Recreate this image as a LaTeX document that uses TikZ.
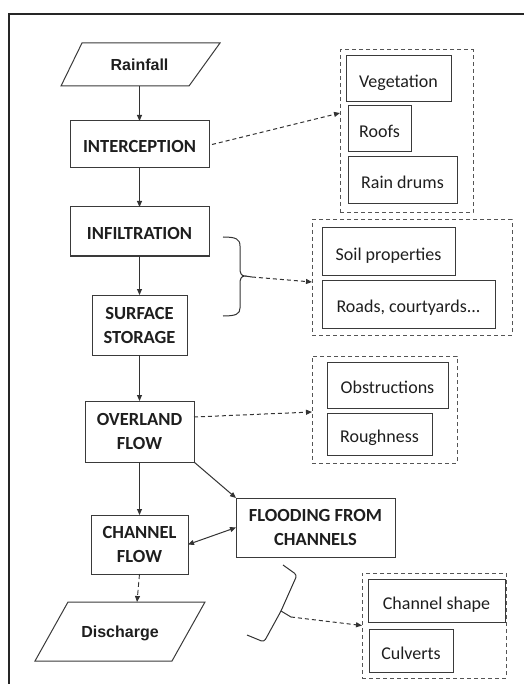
\documentclass[tikz,border=0pt]{standalone}
\usepackage{fontspec}
\setmainfont{Carlito}
\newfontfamily\arialf{Liberation Sans}
\usetikzlibrary{arrows.meta,calc}
\definecolor{linec}{HTML}{333333}
\definecolor{boxc}{HTML}{3A3A3A}
\definecolor{dashc}{HTML}{555555}
\definecolor{txtc}{HTML}{1E1E1E}
\tikzset{
  fbox/.style={draw=boxc, line width=1pt, inner sep=0pt, outer sep=0pt,
    font=\fontsize{18.5}{24}\selectfont\bfseries, text=txtc, align=center},
  oneline/.style={text height=20pt, text depth=3pt},
  ibox/.style={draw=boxc, line width=1pt, inner sep=0pt, outer sep=0pt,
    font=\fontsize{18}{22}\selectfont, text=txtc, text height=20pt, text depth=3pt},
  dbox/.style={draw=dashc, line width=1pt, dash pattern=on 4pt off 3pt, inner sep=0pt, outer sep=0pt},
  ptext/.style={inner sep=0pt, outer sep=0pt, font=\arialf\fontsize{16}{18}\selectfont\bfseries,
    text=txtc, text height=11.5pt, text depth=0pt},
  pshape/.style={draw=boxc, line width=1pt, line join=miter},
  arr/.style={draw=linec, line width=0.9pt, -{Triangle[length=6pt,width=5pt]}},
  darr/.style={draw=linec, line width=1pt, dash pattern=on 4pt off 3pt, -{Triangle[length=6pt,width=5pt]}},
  brc/.style={draw=linec, line width=1pt},
}
\begin{document}
\begin{tikzpicture}[x=1pt,y=-1pt]
\useasboundingbox (0,0) rectangle (523,684);
% frame
\draw[draw=black!85, line width=2.3pt] (8.7,690) -- (8.7,14) -- (530,14);

% parallelograms
\draw[pshape] (82,43) -- (220,43) -- (189,86) -- (61,86) -- cycle;
\node[ptext, minimum width=120pt, minimum height=43pt] (rain) at (139.5,64.5) {Rainfall};
\draw[pshape] (68,602) -- (205,602) -- (172,661) -- (35,661) -- cycle;
\node[ptext, minimum width=120pt, minimum height=59pt] (disch) at (120,631.5) {Discharge};

% main flow boxes
\node[fbox, oneline, minimum width=139pt, minimum height=47pt] (icpt) at (139.5,144.5) {INTERCEPTION};
\node[fbox, oneline, minimum width=139pt, minimum height=49pt] (infl) at (139.5,231.5) {INFILTRATION};
\node[fbox, minimum width=95pt, minimum height=60pt] (surf) at (139.5,325) {SURFACE\\STORAGE};
\node[fbox, minimum width=109pt, minimum height=61pt] (over) at (139.5,431.5) {OVERLAND\\FLOW};
\node[fbox, minimum width=97pt, minimum height=59pt] (chan) at (139.5,544.5) {CHANNEL\\FLOW};
\node[fbox, minimum width=159pt, minimum height=59pt] (flood) at (315.5,527.5) {FLOODING FROM\\CHANNELS};

% dashed groups
\node[dbox, minimum width=133pt, minimum height=163pt] (g1) at (406.5,131.5) {};
\node[dbox, minimum width=200pt, minimum height=115pt] (g2) at (412,277.5) {};
\node[dbox, minimum width=145pt, minimum height=107pt] (g3) at (384.5,409.5) {};
\node[dbox, minimum width=144pt, minimum height=105pt] (g4) at (434,625.5) {};

% item boxes
\node[ibox, minimum width=105pt, minimum height=46pt] (veg) at (398.5,79) {Vegetation};
\node[ibox, minimum width=63pt, minimum height=46pt] (roofs) at (379.5,129) {Roofs};
\node[ibox, minimum width=109pt, minimum height=47pt] (drums) at (402.5,180.5) {Rain drums};
\node[ibox, minimum width=133pt, minimum height=47pt] (soil) at (388.5,251.5) {Soil properties};
\node[ibox, minimum width=173pt, minimum height=48pt] (roads) at (408.5,304) {Roads, courtyards...};
\node[ibox, minimum width=121pt, minimum height=46pt] (obst) at (387.5,385) {Obstructions};
\node[ibox, minimum width=105pt, minimum height=42pt] (rough) at (379.5,434) {Roughness};
\node[ibox, minimum width=137pt, minimum height=43pt] (cshape) at (436.5,600.5) {Channel shape};
\node[ibox, minimum width=84pt, minimum height=43pt] (culv) at (411,650.5) {Culverts};

% braces
\draw[brc] (223,237) .. controls (236,237) and (240,239) .. (240,246) -- (240,268)
  .. controls (240,273) and (241,276) .. (245,276)
  .. controls (241,276) and (240,279) .. (240,284) -- (240,308)
  .. controls (240,314) and (236,316) .. (223,316);
\coordinate (b1tip) at (245,276);
\draw[brc, rounded corners=3pt] (283,565) -- (297,575) -- (281,611) -- (264,642) -- (247,635);
\coordinate (b2tip) at (281,611);

% solid arrows
\draw[arr] (rain.south) -- (icpt.north);
\draw[arr] (icpt.south) -- (infl.north);
\draw[arr] (infl.south) -- (surf.north);
\draw[arr] (surf.south) -- (over.north);
\draw[arr] (over.south) -- (chan.north);
\draw[arr, line width=1pt] (over.south east) -- (flood.north west);
\draw[draw=linec, line width=1pt, {Triangle[length=6pt,width=5pt]}-{Triangle[length=6pt,width=5pt]}] (chan.east) -- (flood.west);

% dashed arrows
\draw[darr] ([xshift=3pt]icpt.east) -- ([yshift=18.5pt]g1.west);
\draw[brc] (b1tip) -- ++(7,1);
\draw[darr] ([shift={(7pt,-1pt)}]b1tip) -- ([yshift=-4.5pt]g2.west);
\draw[darr] ([yshift=14.5pt]over.east) -- ([yshift=-2.5pt]g3.west);
\draw[brc] (b2tip) -- ++(10,6);
\draw[darr] ([shift={(10pt,-6pt)}]b2tip) -- (g4.west);
\draw[draw=linec, line width=0.9pt, dash pattern=on 5pt off 3pt, -{Triangle[length=6pt,width=5pt]}] (chan.south) -- ([xshift=17pt]disch.north);
\end{tikzpicture}
\end{document}
